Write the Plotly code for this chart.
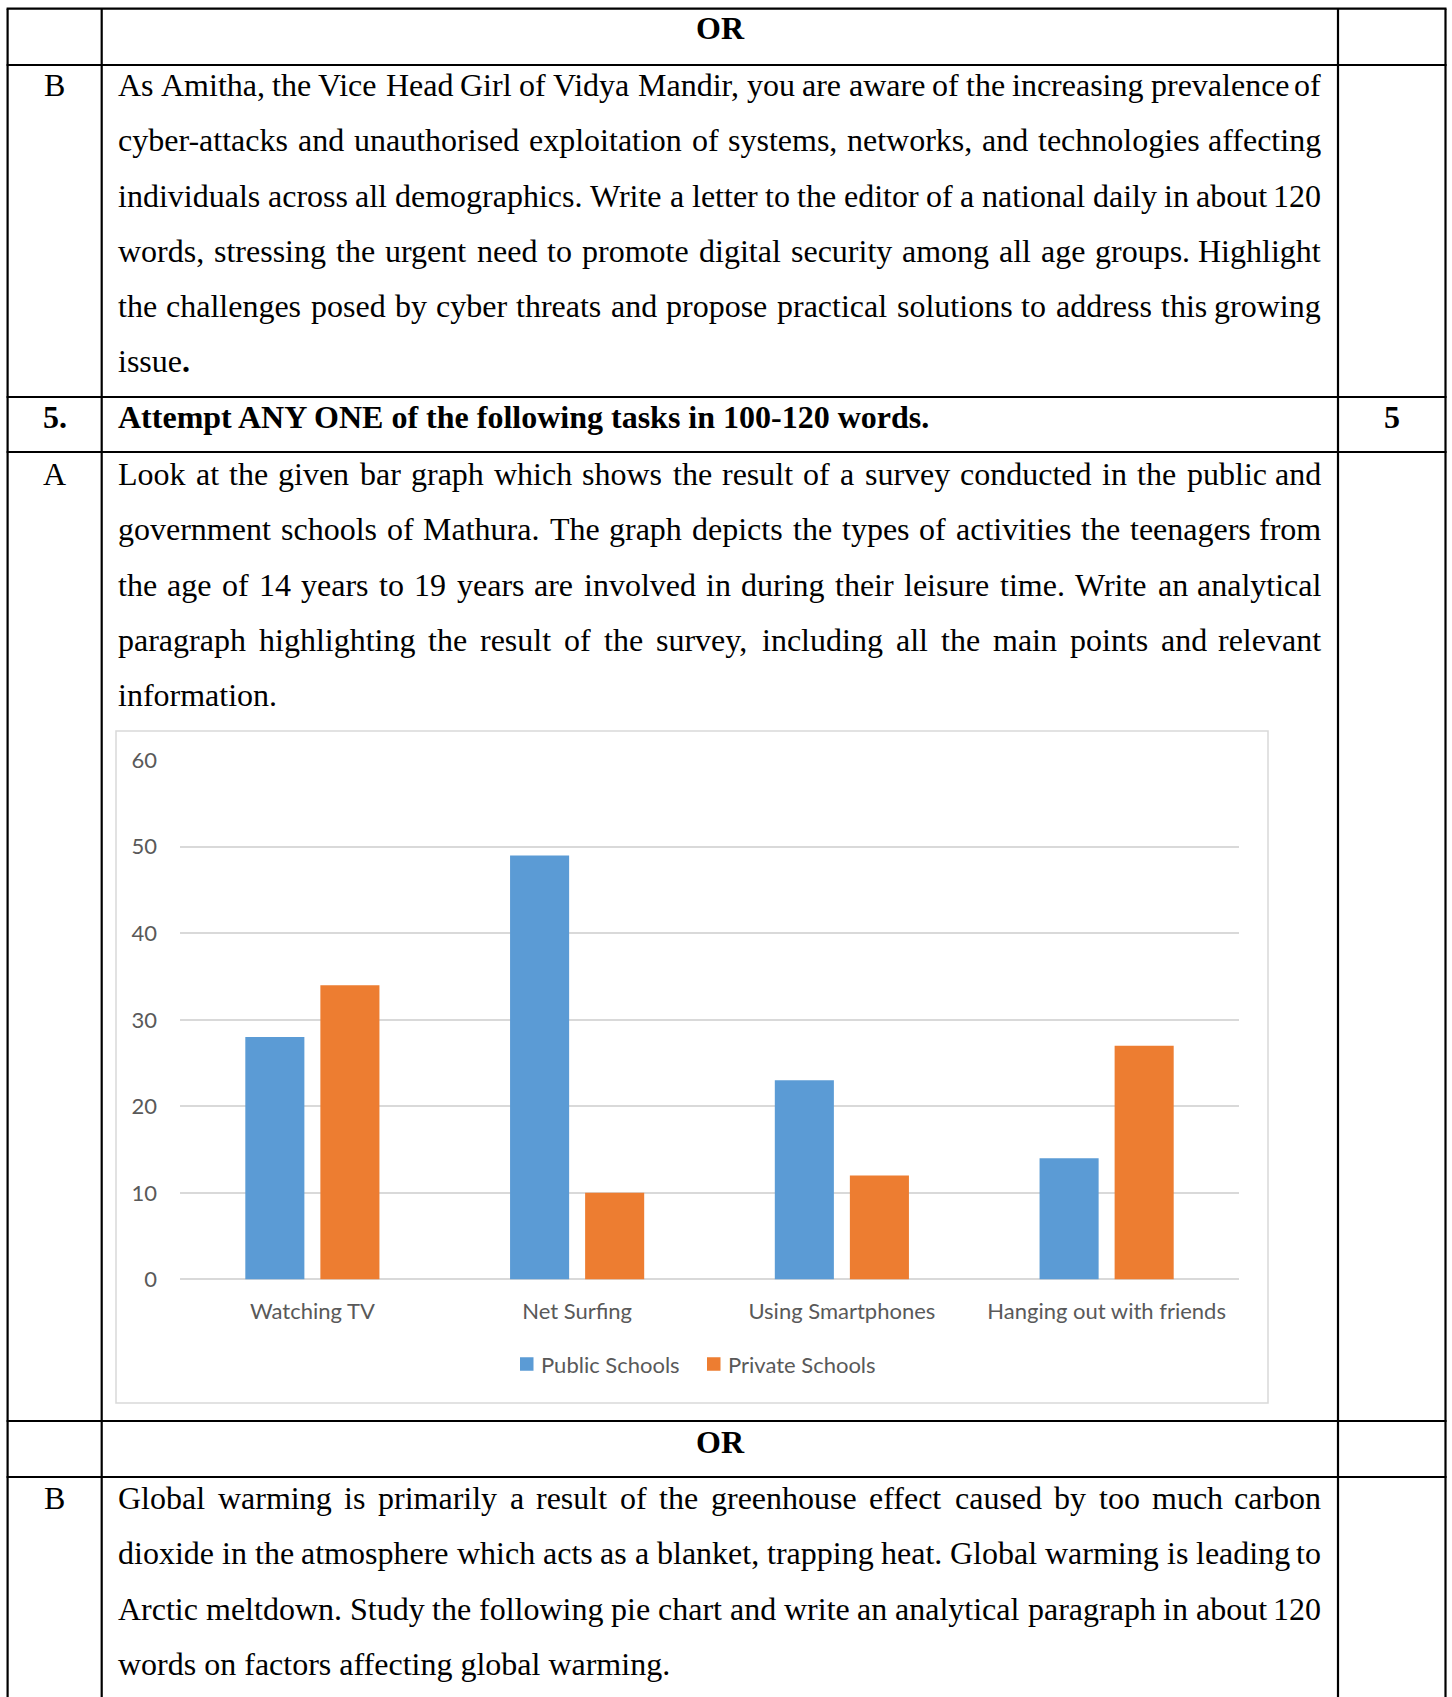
import plotly.graph_objects as go

# ---------------- data ----------------
categories = ["Watching TV", "Net Surfing", "Using Smartphones", "Hanging out with friends"]
public_schools = [28, 49, 23, 14]
private_schools = [34, 10, 12, 27]
series_names = ["Public Schools", "Private Schools"]
series_colors = ["#5B9BD5", "#ED7D31"]
y_ticks = [0, 10, 20, 30, 40, 50, 60]

or_text = "OR"
row_b1_label = "B"
row_b1_lines = [
    "As Amitha, the Vice Head Girl of Vidya Mandir, you are aware of the increasing prevalence of",
    "cyber-attacks and unauthorised exploitation of systems, networks, and technologies affecting",
    "individuals across all demographics. Write a letter to the editor of a national daily in about 120",
    "words, stressing the urgent need to promote digital security among all age groups. Highlight",
    "the challenges posed by cyber threats and propose practical solutions to address this growing",
]
row_b1_last = "issue<b>.</b>"
q_number = "5."
q_heading = "Attempt ANY ONE of the following tasks in 100-120 words."
q_marks = "5"
row_a_label = "A"
row_a_lines = [
    "Look at the given bar graph which shows the result of a survey conducted in the public and",
    "government schools of Mathura. The graph depicts the types of activities the teenagers from",
    "the age of 14 years to 19 years are involved in during their leisure time. Write an analytical",
    "paragraph highlighting the result of the survey, including all the main points and relevant",
]
row_a_last = "information."
row_b2_label = "B"
row_b2_lines = [
    "Global warming is primarily a result of the greenhouse effect caused by too much carbon",
    "dioxide in the atmosphere which acts as a blanket, trapping heat. Global warming is leading to",
    "Arctic meltdown. Study the following pie chart and write an analytical paragraph in about 120",
]
row_b2_last = "words on factors affecting global warming."

# ---------------- page geometry ----------------
W, H = 1452, 1697
SERIF = "Liberation Serif"
SANS = "Lato"
FS = 32
LINE = 55.2
TXT_L, TXT_R = 117, 1322
COL1_C = 54.5
COL3_C = 1391.5
MID_C = 720

def px(x):
    return x / W

def py(y):
    return 1 - y / H

TIMES = {' ': 250, ',': 250, '.': 250, '-': 333, ':': 278, ';': 278, '?': 444, '!': 333,
         '(': 333, ')': 333, "'": 333, '/': 278}
for ch in "0123456789":
    TIMES[ch] = 500
_up = dict(A=722, B=667, C=667, D=722, E=611, F=556, G=722, H=722, I=333, J=389, K=722, L=611,
           M=889, N=722, O=722, P=556, Q=722, R=667, S=556, T=611, U=722, V=722, W=944, X=722,
           Y=722, Z=611)
_lo = dict(a=444, b=500, c=444, d=500, e=444, f=333, g=500, h=500, i=278, j=278, k=500, l=278,
           m=778, n=500, o=500, p=500, q=500, r=333, s=389, t=278, u=500, v=500, w=722, x=500,
           y=500, z=444)
TIMES.update(_up)
TIMES.update(_lo)

def tw(s, size=FS):
    return sum(TIMES.get(c, 500) for c in s) * size / 1000.0

annotations = []

def text(x, baseline, s, anchor="left", size=FS, family=SERIF, color="black"):
    mid = baseline - 0.3375 * size
    annotations.append(dict(x=px(x), y=py(mid), xref="paper", yref="paper", text=s,
                            showarrow=False, xanchor=anchor, yanchor="middle", borderpad=0,
                            font=dict(family=family, size=size, color=color)))

def justified(line, baseline):
    words = line.split(" ")
    widths = [tw(w) for w in words]
    gap = (TXT_R - TXT_L - sum(widths)) / (len(words) - 1)
    x = TXT_L
    for i, w in enumerate(words):
        if i == len(words) - 1:
            text(TXT_R, baseline, w, anchor="right")
        else:
            text(x, baseline, w)
        x += widths[i] + gap

def paragraph(lines, last, first_baseline):
    for i, ln in enumerate(lines):
        justified(ln, first_baseline + i * LINE)
    text(TXT_L, first_baseline + len(lines) * LINE, last)

# row 1: OR
text(MID_C, 39, "<b>" + or_text + "</b>", anchor="center")
# row 2: B
text(COL1_C, 96, row_b1_label, anchor="center")
paragraph(row_b1_lines, row_b1_last, 96)
# row 3: question heading
text(COL1_C, 428, "<b>" + q_number + "</b>", anchor="center")
text(TXT_L, 428, "<b>" + q_heading + "</b>")
text(COL3_C, 428, "<b>" + q_marks + "</b>", anchor="center")
# row 4: A
text(COL1_C, 485, row_a_label, anchor="center")
paragraph(row_a_lines, row_a_last, 485)
# row 5: OR
text(MID_C, 1453, "<b>" + or_text + "</b>", anchor="center")
# row 6: B
text(COL1_C, 1509, row_b2_label, anchor="center")
paragraph(row_b2_lines, row_b2_last, 1509)

# ---------------- table lines ----------------
shapes = []
LW = 2.2
X_L, X_1, X_2, X_R = 7.6, 101.7, 1338, 1445.5
for yy in [8.7, 65, 397, 452, 1421, 1477]:
    shapes.append(dict(type="line", xref="paper", yref="paper", x0=px(X_L - 1), x1=px(X_R + 1),
                       y0=py(yy), y1=py(yy), line=dict(color="black", width=LW)))
for xx in [X_L, X_1, X_2, X_R]:
    shapes.append(dict(type="line", xref="paper", yref="paper", x0=px(xx), x1=px(xx),
                       y0=py(8.7), y1=py(H + 5), line=dict(color="black", width=LW)))
# chart frame
shapes.append(dict(type="rect", xref="paper", yref="paper", x0=px(116), x1=px(1268),
                   y0=py(1403), y1=py(731), line=dict(color="#D9D9D9", width=1.5),
                   layer="below"))

# ---------------- bar chart ----------------
fig = go.Figure()
fig.add_trace(go.Bar(x=categories, y=public_schools, name=series_names[0],
                     marker=dict(color=series_colors[0], line=dict(width=0))))
fig.add_trace(go.Bar(x=categories, y=private_schools, name=series_names[1],
                     marker=dict(color=series_colors[1], line=dict(width=0))))

PLOT_L, PLOT_R = 180, 1239
PLOT_T, PLOT_B = 760.2, 1279.4
TICK_FS = 22

# legend (Excel style: small square right next to its label)
LEG_Y = 1364
LEG_SQ = 13.5
leg_square_x = [520, 707]
for name, color, sx in zip(series_names, series_colors, leg_square_x):
    shapes.append(dict(type="rect", xref="paper", yref="paper",
                       x0=px(sx), x1=px(sx + LEG_SQ),
                       y0=py(LEG_Y + LEG_SQ / 2), y1=py(LEG_Y - LEG_SQ / 2),
                       line=dict(width=0), fillcolor=color))
    annotations.append(dict(x=px(sx + LEG_SQ + 6), y=py(LEG_Y), xref="paper", yref="paper",
                            text=name, showarrow=False, xanchor="left", yanchor="middle",
                            borderpad=0, font=dict(family=SANS, size=TICK_FS, color="#595959")))

fig.update_layout(
    width=W, height=H,
    margin=dict(l=0, r=0, t=0, b=0, pad=0, autoexpand=False),
    paper_bgcolor="white", plot_bgcolor="white",
    barmode="group", bargap=0.433, bargroupgap=0.213,
    showlegend=False,
    xaxis=dict(domain=[px(PLOT_L), px(PLOT_R)], showgrid=False, showline=False, ticks="",
               tickfont=dict(family=SANS, size=TICK_FS, color="#595959"), ticklabelstandoff=17,
               fixedrange=True, automargin=False),
    yaxis=dict(domain=[py(PLOT_B), py(PLOT_T)], range=[0, 60], tickvals=y_ticks,
               showgrid=True, gridcolor="#D9D9D9", gridwidth=1.5,
               zeroline=True, zerolinecolor="#D9D9D9", zerolinewidth=1.5,
               showline=False, ticks="", ticklabelstandoff=22,
               tickfont=dict(family=SANS, size=TICK_FS, color="#595959"), fixedrange=True,
               automargin=False),
    shapes=shapes,
    annotations=annotations,
)

fig.write_html("out.html", config={"displayModeBar": False},
               post_script="document.body.style.margin='0';document.body.style.overflow='hidden';")
